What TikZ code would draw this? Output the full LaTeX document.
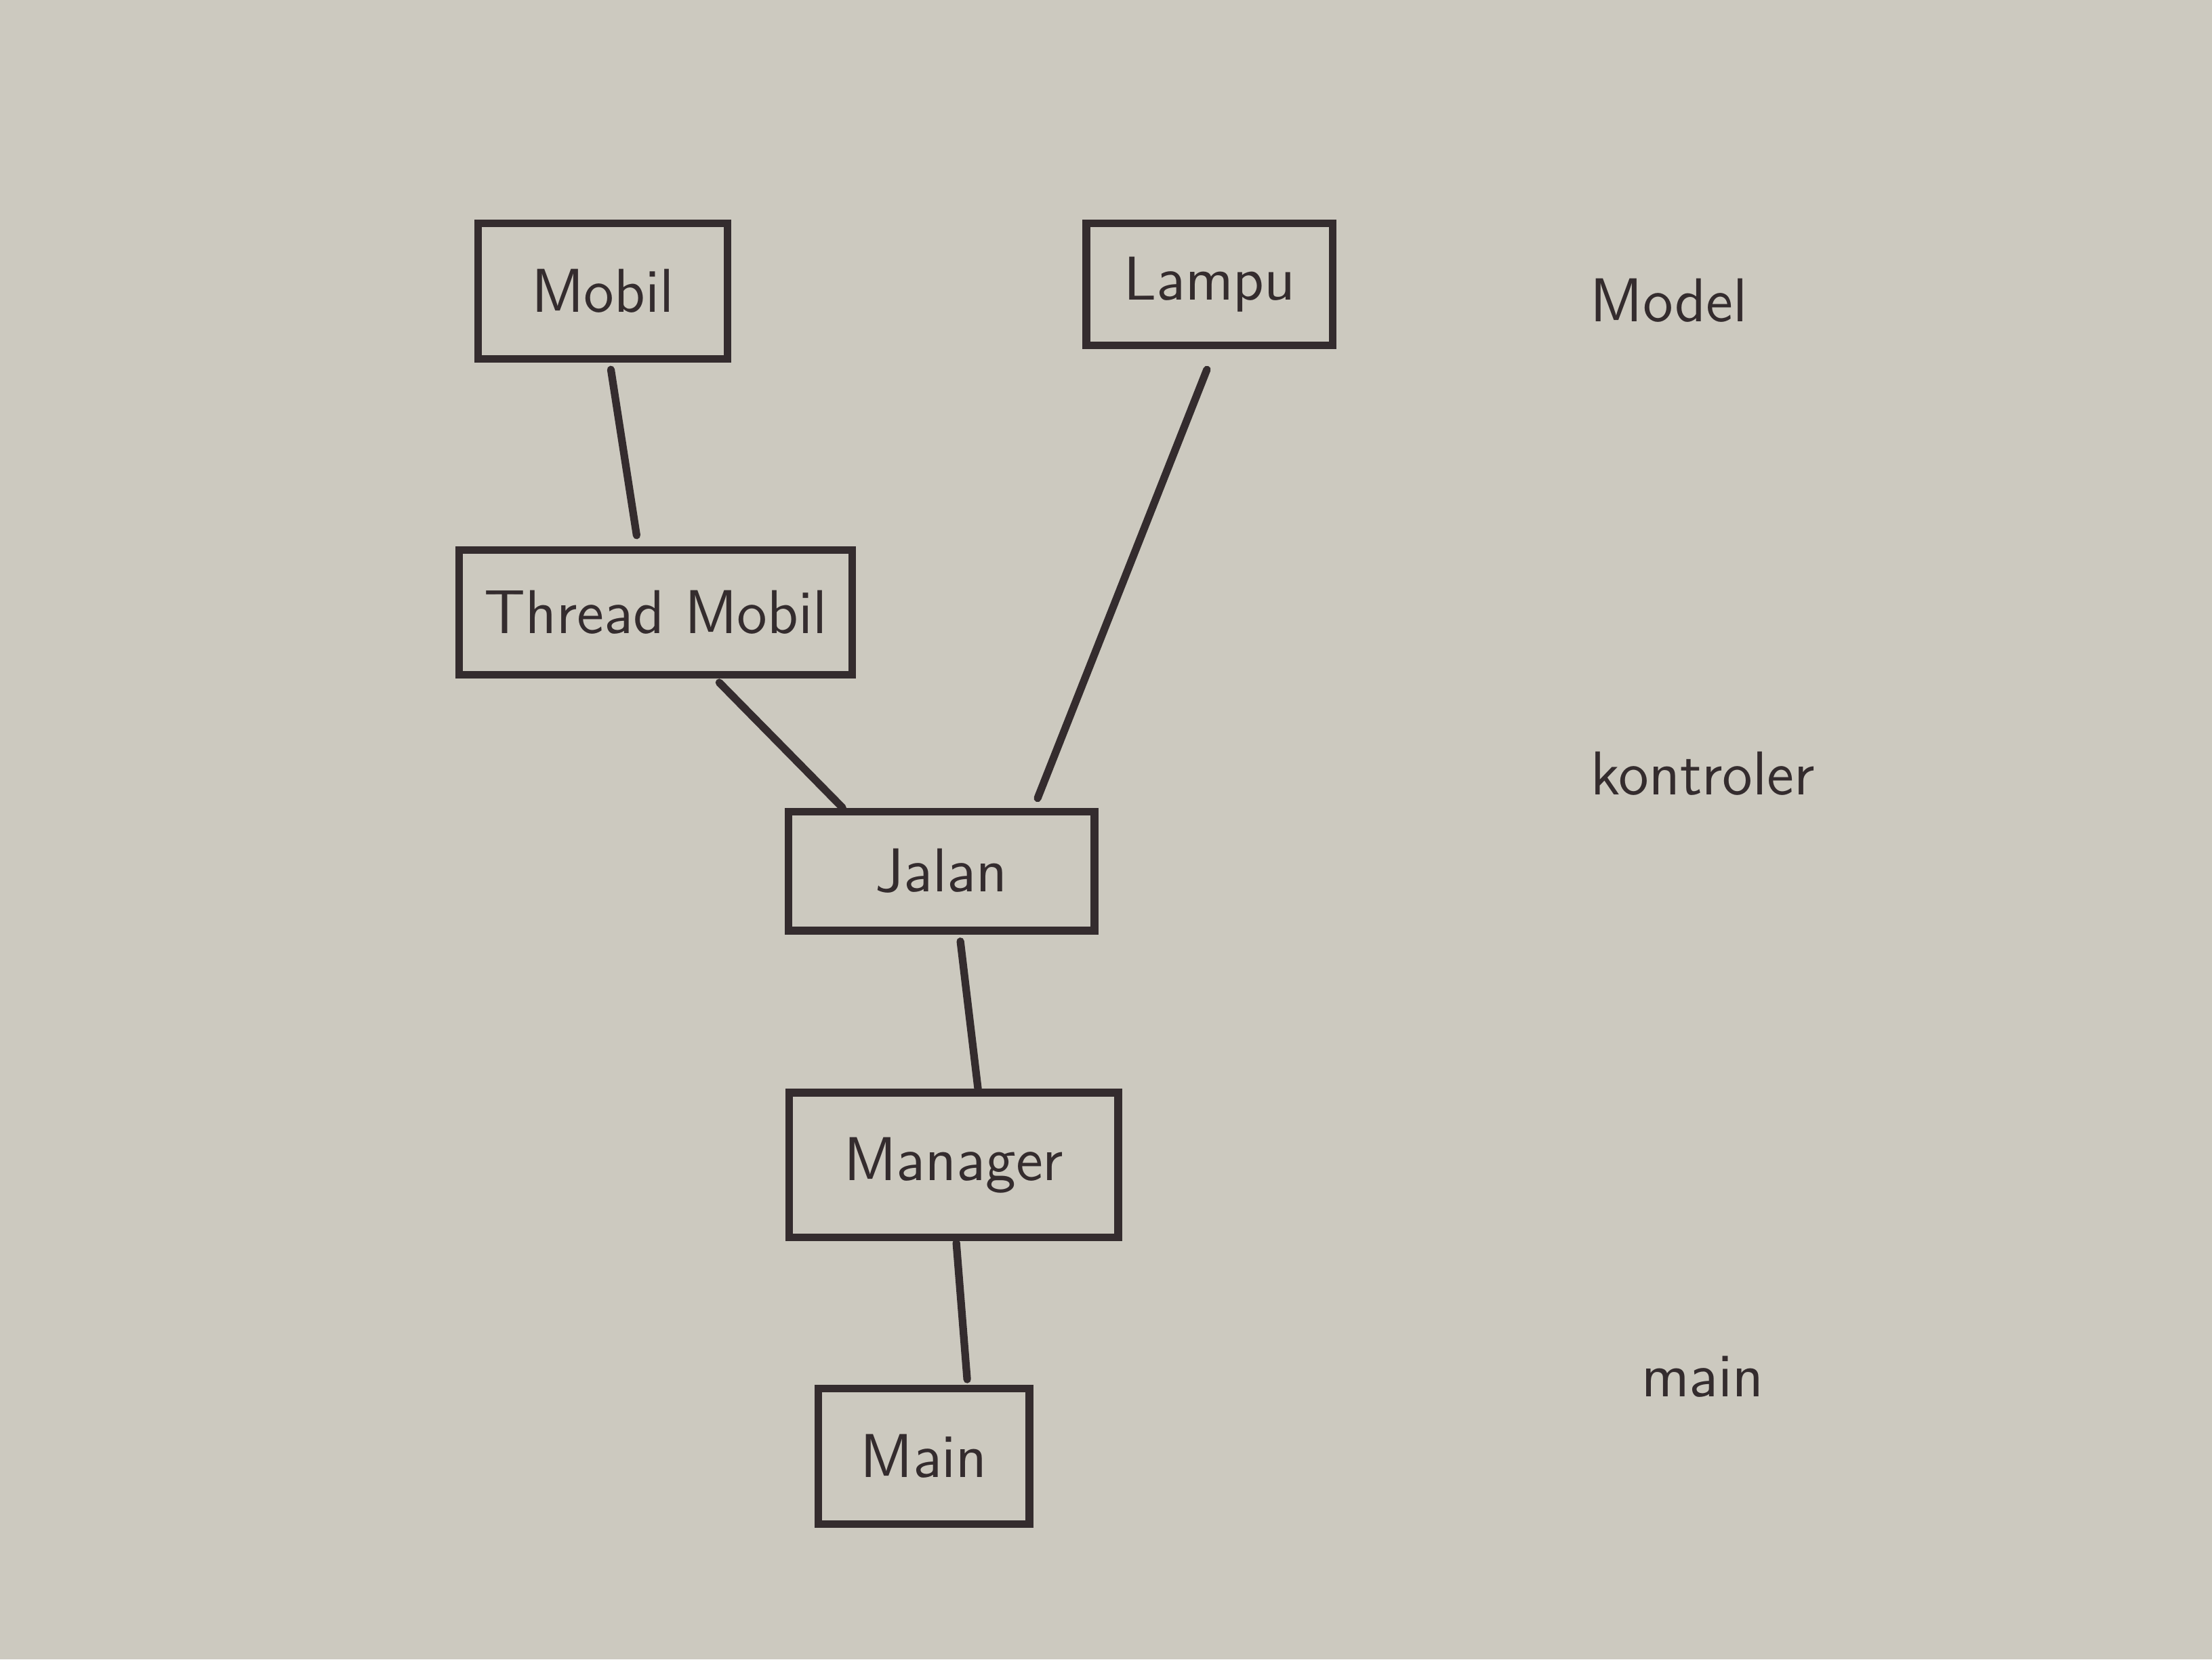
\documentclass[tikz,border=0pt]{standalone}
\usepackage{xcolor}
\usetikzlibrary{positioning}
\definecolor{paper}{RGB}{204,201,191}
\definecolor{ink}{RGB}{52,44,46}

\begin{document}
\begin{tikzpicture}[
			box/.style={draw=ink, line width=1.6pt, text=ink, inner sep=0pt, font=\sffamily\fontsize{13}{15}\selectfont},
			lbl/.style={text=ink, font=\sffamily\fontsize{13}{15}\selectfont},
			link/.style={draw=ink, line width=1.6pt, line cap=round}]
			\fill[paper] (0, 0) rectangle (16.33, 12.25);
			
			%%classes%%
			\node[box, minimum width=1.84cm, minimum height=1.0cm] (mobil) at (4.45, 10.10) {Mobil};
			\node[box, minimum width=1.82cm, minimum height=0.9cm] (lampu) at (8.93, 10.15) {Lampu};
			\node[box, minimum width=2.9cm, minimum height=0.92cm] (thread) at (4.84, 7.73) {Thread Mobil};
			\node[box, minimum width=2.26cm, minimum height=0.88cm] (jalan) at (6.95, 5.82) {Jalan};
			\node[box, minimum width=2.43cm, minimum height=1.07cm] (manager) at (7.04, 3.65) {Manager};
			\node[box, minimum width=1.56cm, minimum height=1.0cm] (main) at (6.82, 1.5) {Main};
			
			%%layers%%
			\node[lbl] (model) at (12.32, 10.03) {Model};
			\node[lbl] (kontroler) at (12.57, 6.54) {kontroler};
			\node[lbl] (mainlbl) at (12.57, 2.09) {main};
			
			%%links%%
			\draw[link] ([xshift=0.06cm, yshift=-0.05cm]mobil.south) -- ([xshift=-0.14cm, yshift=0.08cm]thread.north);
			\draw[link] ([xshift=-0.02cm, yshift=-0.15cm]lampu.south) -- ([xshift=0.71cm, yshift=0.07cm]jalan.north);
			\draw[link] ([xshift=0.47cm, yshift=-0.03cm]thread.south) -- ([xshift=-0.73cm, yshift=0.0cm]jalan.north);
			\draw[link] ([xshift=0.14cm, yshift=-0.05cm]jalan.south) -- ([xshift=0.18cm]manager.north);
			\draw[link] ([xshift=0.02cm, yshift=-0.01cm]manager.south) -- ([xshift=0.32cm, yshift=0.04cm]main.north);
		\end{tikzpicture}
\end{document}
